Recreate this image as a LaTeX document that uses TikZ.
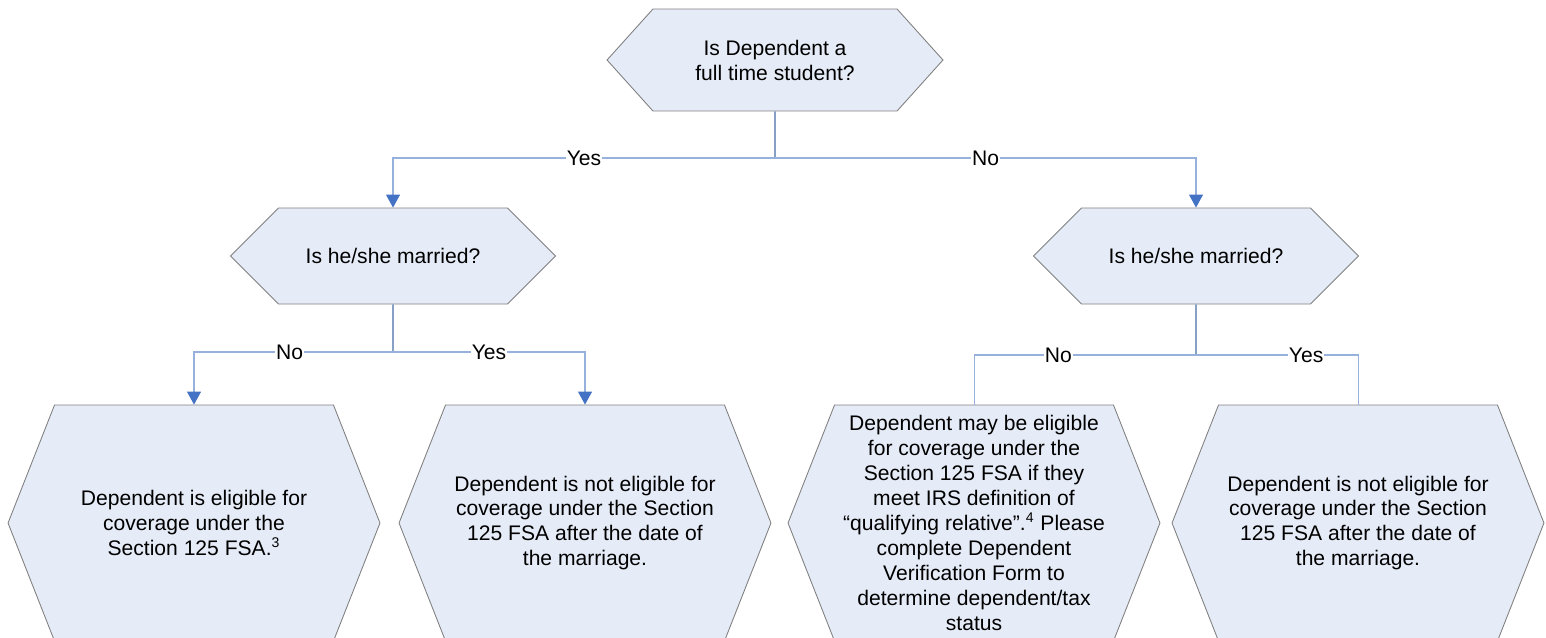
\documentclass[tikz,border=0pt]{standalone}
\usepackage{fontspec}
\setmainfont{Liberation Sans}
\usetikzlibrary{arrows.meta,shapes.symbols}

\definecolor{hexfill}{RGB}{230,236,247}
\definecolor{hexline}{RGB}{128,128,128}
\definecolor{linkblue}{RGB}{150,178,220}
\definecolor{tipblue}{RGB}{68,114,196}

\begin{document}
\begin{tikzpicture}[
      x=0.02cm,
      y=0.02cm,
      font=\fontsize{12}{14.2}\selectfont,
      hexbox/.style={shape=signal, signal to=east and west, draw=hexline, fill=hexfill,
                     line width=0.5pt, align=center, inner sep=0pt},
      question/.style={hexbox, minimum width=6.5cm, minimum height=1.92cm, signal pointer angle=90},
      outcome/.style={hexbox, minimum width=7.44cm, minimum height=4.72cm, signal pointer angle=137},
      link/.style={draw=linkblue, line width=0.6pt},
      stem/.style={draw=linkblue!90!black, line width=0.9pt},
      arrow/.style={link, -{Triangle[length=0.26cm, width=0.28cm, color=tipblue]}},
      lbl/.style={fill=white, inner sep=0.5pt}
  ]
  \useasboundingbox (0,0) rectangle (1546,-637);

  % --- Question nodes ---
  \node[hexbox, minimum width=6.72cm, minimum height=2.04cm, signal pointer angle=96]
        (student) at (775,-60) {Is Dependent a\\full time student?};
  \node[question] (marriedA) at (393,-256)  {Is he/she married?};
  \node[question] (marriedB) at (1196,-256) {Is he/she married?};

  % --- Outcomes ---
  \node[outcome] (eligible)    at (194,-523)  {Dependent is eligible for\\coverage under the\\Section 125 FSA.\textsuperscript{3}};
  \node[outcome] (notelig)     at (585,-523)  {Dependent is not eligible for\\coverage under the Section\\125 FSA after the date of\\the marriage.};
  \node[outcome] (maybe)       at (974,-523)  {Dependent may be eligible\\for coverage under the\\Section 125 FSA if they\\meet IRS definition of\\“qualifying relative”.\textsuperscript{4} Please\\complete Dependent\\Verification Form to\\determine dependent/tax\\status};
  \node[outcome] (noteligB)    at (1358,-523) {Dependent is not eligible for\\coverage under the Section\\125 FSA after the date of\\the marriage.};

  % --- Junctions ---
  \coordinate (jtop) at (775,-158);
  \coordinate (jA)   at (393,-352);
  \coordinate (jB)   at (1196,-355);

  % --- Connectors ---
  \draw[stem] (student) -- (jtop);
  \draw[arrow] (jtop) -| node[lbl, pos=0.25] {Yes} (marriedA);
  \draw[arrow] (jtop) -| node[lbl, pos=0.25] {No} (marriedB);

  \draw[stem] (marriedA) -- (jA);
  \draw[arrow] (jA) -| node[lbl, pos=0.26] {No} (eligible);
  \draw[arrow] (jA) -| node[lbl, pos=0.25] {Yes} (notelig);

  % no heads on this side
  \draw[stem] (marriedB) -- (jB);
  \draw[link] (jB) -| node[lbl, pos=0.31] {No} (maybe);
  \draw[link] (jB) -| node[lbl, pos=0.34] {Yes} (noteligB);

  \end{tikzpicture}
\end{document}
